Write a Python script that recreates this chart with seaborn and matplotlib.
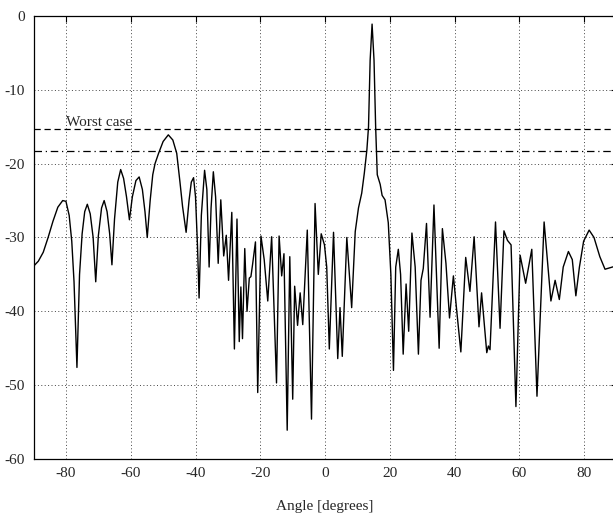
import numpy as np
import pandas as pd
import matplotlib
matplotlib.use("Agg")
import matplotlib.pyplot as plt
import seaborn as sns

angle = [-90.0, -88.5, -87.0, -85.5, -84.0, -82.5, -81.0, -80.0, -79.0, -78.2,
         -77.5, -76.6, -75.8, -75.0, -74.2, -73.4, -72.5, -71.6, -70.8, -70.0,
         -69.0, -68.2, -67.3, -66.5, -65.8, -65.0, -64.0, -63.1, -62.2, -61.3,
         -60.4, -59.5, -58.4, -57.4, -56.4, -55.6, -54.9, -54.0, -53.2, -52.5,
         -51.4, -50.0, -48.4, -47.0, -45.8, -44.8, -44.0, -42.9, -42.0, -41.3,
         -40.6, -40.0, -39.4, -38.9, -38.2, -37.2, -36.5, -35.8, -35.2, -34.5,
         -33.8, -33.0, -32.2, -31.3, -30.5, -29.8, -28.8, -28.0, -27.2, -26.5,
         -26.0, -25.5, -24.8, -24.1, -23.4, -22.9, -22.4, -21.5, -20.8, -19.8,
         -18.8, -17.7, -16.5, -15.0, -14.2, -13.4, -12.7, -11.7, -10.9, -10.0,
         -9.4, -8.5, -7.7, -6.9, -5.5, -4.2, -3.1, -2.1, -1.2, -0.2,
         0.5, 1.3, 2.6, 3.9, 4.6, 5.3, 6.7, 8.2, 9.3, 10.3,
         11.3, 12.1, 12.9, 13.4, 13.9, 14.5, 15.1, 15.6, 16.1, 17.0,
         17.6, 18.5, 19.5, 20.3, 21.1, 21.8, 22.6, 23.3, 24.1, 25.0,
         25.8, 26.8, 27.8, 28.8, 29.6, 30.3, 31.3, 32.4, 33.6, 35.2,
         36.2, 37.3, 38.4, 39.6, 40.6, 41.9, 43.4, 44.7, 46.0, 47.5,
         48.3, 49.9, 50.4, 50.9, 52.6, 54.0, 55.2, 56.3, 57.4, 58.9,
         60.2, 61.9, 63.8, 65.4, 67.6, 69.7, 71.0, 72.3, 73.5, 75.1,
         76.3, 77.4, 78.5, 79.8, 81.5, 83.0, 84.8, 86.4, 88.8, 90.0]
gain_db = [-33.9, -33.2, -32.0, -30.0, -27.8, -25.9, -25.0, -25.1, -27.0, -30.5,
           -36.0, -47.6, -35.0, -29.5, -26.5, -25.5, -26.8, -30.0, -36.0, -29.8,
           -26.0, -25.0, -26.5, -29.5, -33.7, -27.5, -22.5, -20.8, -22.0, -24.5,
           -27.6, -24.5, -22.3, -21.8, -23.5, -26.5, -30.0, -25.0, -21.5, -20.0,
           -18.6, -17.0, -16.1, -16.8, -18.6, -22.5, -25.8, -29.3, -25.0, -22.5,
           -21.9, -24.5, -31.0, -38.2, -27.0, -20.9, -23.5, -34.0, -26.0, -21.1,
           -24.5, -33.5, -24.9, -32.5, -29.7, -35.8, -26.6, -45.1, -27.5, -44.1,
           -36.7, -43.7, -31.5, -40.0, -35.5, -35.3, -33.7, -30.6, -51.0, -29.8,
           -33.0, -38.6, -29.9, -49.7, -29.8, -35.2, -32.2, -56.1, -32.6, -51.9,
           -36.6, -41.9, -37.5, -41.8, -29.0, -54.6, -25.4, -35.0, -29.5, -31.0,
           -34.0, -45.1, -29.3, -46.4, -39.5, -46.1, -30.0, -39.5, -29.2, -26.0,
           -24.0, -21.3, -18.1, -15.0, -6.0, -1.1, -6.0, -15.0, -21.5, -22.8,
           -24.3, -24.9, -28.0, -35.0, -48.0, -34.0, -31.6, -35.0, -45.8, -36.3,
           -42.7, -29.4, -34.0, -45.8, -35.8, -34.2, -28.1, -40.8, -25.6, -45.0,
           -28.8, -33.5, -40.9, -35.2, -39.8, -45.5, -32.7, -37.3, -29.9, -42.1,
           -37.5, -45.6, -44.7, -45.2, -27.9, -42.3, -29.1, -30.4, -31.0, -52.9,
           -32.4, -36.2, -31.6, -51.5, -27.9, -38.6, -35.8, -38.4, -34.0, -31.9,
           -33.0, -37.9, -34.0, -30.5, -29.0, -30.0, -32.6, -34.3, -34.0, -33.8]

worst_case = -15.3
second_level = -18.3
x_ticks = [-80, -60, -40, -20, 0, 20, 40, 60, 80]
y_ticks = [0, -10, -20, -30, -40, -50, -60]

df = pd.DataFrame({"Angle": angle, "Gain": gain_db})

sns.set_theme(style="white")
plt.rcParams["font.family"] = ["Liberation Serif", "DejaVu Serif"]
plt.rcParams["xtick.direction"] = "in"
plt.rcParams["ytick.direction"] = "in"

fig = plt.figure(figsize=(6.13, 5.17), dpi=100)
ax = fig.add_axes([0.0547, 0.1122, 0.9513, 0.8569])

sns.lineplot(data=df, x="Angle", y="Gain", color="black", linewidth=1.0, ax=ax)
ax.axhline(worst_case, color="black", linestyle=(0, (5, 3)), linewidth=0.9)
ax.axhline(second_level, color="black", linestyle=(0, (6, 3, 1, 3)), linewidth=0.9)
ax.text(-80, -14.9, "Worst case", fontsize=11, ha="left", va="baseline")

ax.set_xlim(-90, 90)
ax.set_ylim(-60, 0)
ax.set_xticks(x_ticks)
ax.set_yticks(y_ticks)
ax.set_xticklabels([str(t) for t in x_ticks])
ax.set_yticklabels([str(t) for t in y_ticks])
ax.tick_params(axis="both", labelsize=11, length=4, width=0.8, color="black",
               top=True, right=True, pad=6)
ax.grid(True, linestyle=(0, (1, 2.5)), color="#444444", linewidth=0.7)
for s in ax.spines.values():
    s.set_color("black")
    s.set_linewidth(0.9)

ax.set_xlabel("Angle [degrees]", fontsize=11, labelpad=14)
ax.set_ylabel("")

fig.savefig("out.png", dpi=100)
